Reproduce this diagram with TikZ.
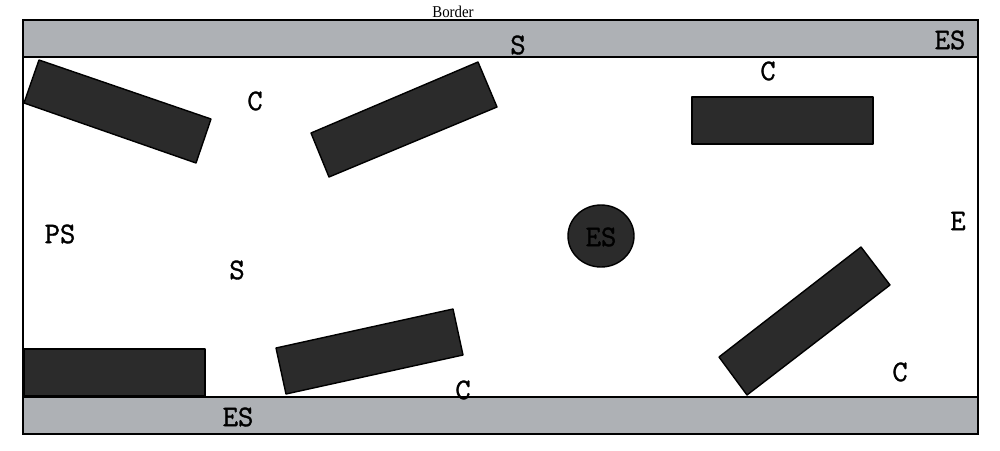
\documentclass[tikz,border=0pt]{standalone}
\usepackage{fontspec}
\setmainfont{Liberation Serif}
\newfontfamily\zonefont{Latin Modern Mono}[FakeBold=1.2]
\definecolor{bargrey}{HTML}{AEB1B5}
\definecolor{blockdark}{HTML}{2B2B2B}
\tikzset{
	bar/.style={fill=bargrey, draw=black, line width=1.1pt},
	block/.style={fill=blockdark, draw=black, line width=0.8pt, line join=round},
	zone/.style={font=\zonefont\fontsize{17}{17}\selectfont, inner sep=0pt},
}
\begin{document}
\begin{tikzpicture}[x=0.02cm, y=-0.02cm]
	\useasboundingbox (0,0) rectangle (1000,450);
	% outer frame and the two grey bars
	\draw [line width=1.1pt] (23,20) rectangle (978,434);
	\draw [bar] (23,20) rectangle (978,57);
	\draw [bar] (23,397) rectangle (978,434);
	\node (border) at (453,12) [font=\fontsize{9.4}{9.4}\selectfont, inner sep=0pt, xscale=0.9] {Border};
	% obstacles
	\draw [block] (39,60) -- (211,119) -- (196,163) -- (24,103) -- cycle;
	\draw [block] (311,133) -- (478,62) -- (497,107) -- (329,177) -- cycle;
	\draw [block] (692,97) rectangle (873,144);
	\draw [block] (24,349) rectangle (205,396);
	\draw [block] (276,348) -- (453,309) -- (463,355) -- (286,394) -- cycle;
	\draw [block] (719,357) -- (861,247) -- (890,285) -- (747,395) -- cycle;
	\draw [block] (601,236) ellipse [x radius=33, y radius=31];
	% labels
	\node (sTop) at (518,45) [zone] {S};
	\node (esTop) at (950,40) [zone] {ES};
	\node (cA) at (255,101) [zone] {C};
	\node (cB) at (768,71) [zone] {C};
	\node (ps) at (60,234) [zone] {PS};
	\node (sMid) at (237,270) [zone] {S};
	\node (esMid) at (601,237) [zone] {ES};
	\node (e) at (958,221) [zone] {E};
	\node (cC) at (463,390) [zone] {C};
	\node (cD) at (900,372) [zone] {C};
	\node (esBot) at (238,417) [zone] {ES};
\end{tikzpicture}
\end{document}
